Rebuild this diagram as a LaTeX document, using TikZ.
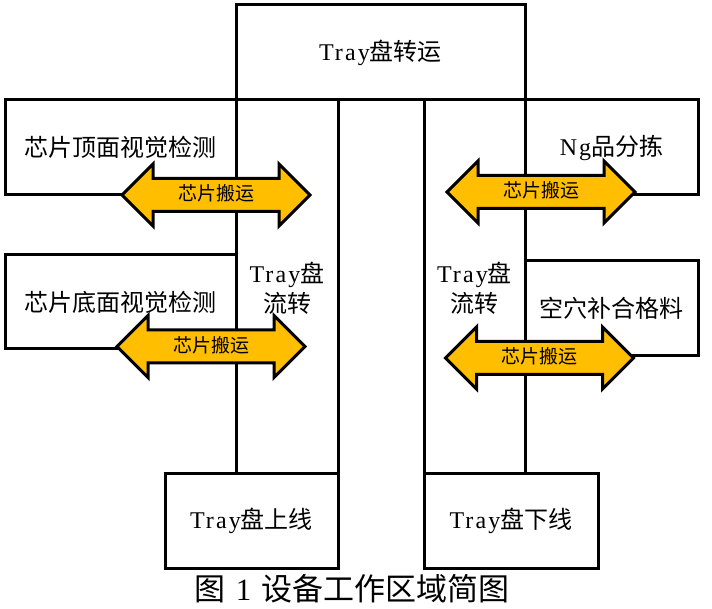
\documentclass[tikz,border=0pt]{standalone}
\usepackage{fontspec}
\setmainfont{Liberation Serif}[LetterSpace=9]
\newfontfamily\cjk{Noto Sans CJK SC}
\newcommand{\zh}[1]{{\cjk #1}}
\usetikzlibrary{shapes.arrows}
\definecolor{carryyellow}{RGB}{255,190,0}
\tikzset{
  area/.style={draw, line width=3pt, inner sep=0pt, font=\fontsize{24}{30}\selectfont},
  carry/.style={double arrow, draw, fill=carryyellow, line width=3pt, inner sep=0pt,
    minimum height=188pt, minimum width=59pt, double arrow head extend=14.5pt,
    text height=21pt, text depth=9pt, font=\cjk\fontsize{19}{22}\selectfont}
}
\begin{document}
\begin{tikzpicture}[x=1pt,y=-1pt]
\useasboundingbox (0,0) rectangle (712,609);

% Tray transfer (top)
\node[area, minimum width=289pt, minimum height=95pt] (transfer) at (380.5,52.5) {Tray\zh{盘转运}};

% Tray flow columns
\node[area, minimum width=102pt, minimum height=373pt] (leftflow) at (287,286.5) {};
\node[area, minimum width=101pt, minimum height=373pt] (rightflow) at (474.5,286.5) {};
\node[area, draw=none, align=center] (leftflowtext) at (287,288) {Tray\zh{盘}\\\zh{流转}};
\node[area, draw=none, align=center] (rightflowtext) at (474.5,288) {Tray\zh{盘}\\\zh{流转}};

% Stations, left side
\node[area, minimum width=231pt, minimum height=95pt] (topcheck) at (120.5,147.5) {\zh{芯片顶面视觉检测}};
\node[area, minimum width=231pt, minimum height=94pt] (bottomcheck) at (120.5,302) {\zh{芯片底面视觉检测}};

% Stations, right side
\node[area, minimum width=173pt, minimum height=95pt] (ngsort) at (611.5,147.5) {Ng\zh{品分拣}};
\node[area, minimum width=173pt, minimum height=95pt] (refill) at (611.5,308.5) {\zh{空穴补合格料}};

% Tray in / out
\node[area, minimum width=173pt, minimum height=95pt] (trayin) at (251.5,520.5) {Tray\zh{盘上线}};
\node[area, minimum width=174pt, minimum height=95pt] (trayout) at (511,520.5) {Tray\zh{盘下线}};

% chip transfer arrows
\node[carry] (carrytl) at (216,195) {芯片搬运};
\node[carry] (carrybl) at (211,346.5) {芯片搬运};
\node[carry] (carrytr) at (541,192) {芯片搬运};
\node[carry] (carrybr) at (539.5,358) {芯片搬运};

% caption
\node[font=\fontsize{31}{35}\selectfont] (caption) at (352,589) {\zh{图} 1 \zh{设备工作区域简图}};

\end{tikzpicture}
\end{document}
